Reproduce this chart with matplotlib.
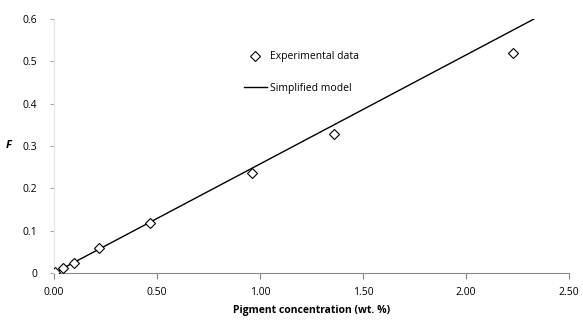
import matplotlib
matplotlib.use("Agg")
import matplotlib.pyplot as plt
from matplotlib.ticker import FixedLocator, FixedFormatter

# Data
conc = [0.005, 0.044, 0.097, 0.22, 0.466, 0.96, 1.36, 2.23]
F_exp = [0.003, 0.012, 0.024, 0.059, 0.118, 0.236, 0.329, 0.52]
model_x = [0.0, 2.33]
model_y = [0.0, 0.60]
xticks = [0.0, 0.5, 1.0, 1.5, 2.0, 2.5]
xticklabels = ["0.00", "0.50", "1.00", "1.50", "2.00", "2.50"]
yticks = [0, 0.1, 0.2, 0.3, 0.4, 0.5, 0.6]
yticklabels = ["0", "0.1", "0.2", "0.3", "0.4", "0.5", "0.6"]

plt.rcParams['font.family'] = ['Open Sans', 'DejaVu Sans']

fig = plt.figure(figsize=(5.83, 3.2), dpi=100)
ax = fig.add_axes([54/583, 1-273/320, (569-54)/583, (273-19)/320])

ax.plot(model_x, model_y, color='black', lw=1.0, label='Simplified model', zorder=2)
ax.plot(conc, F_exp, linestyle='none', marker='D', markersize=5.5, markerfacecolor='white',
        markeredgecolor='black', markeredgewidth=0.8, label='Experimental data', zorder=3)

ax.set_xlim(0, 2.5)
ax.set_ylim(0, 0.6)
ax.xaxis.set_major_locator(FixedLocator(xticks))
ax.xaxis.set_major_formatter(FixedFormatter(xticklabels))
ax.yaxis.set_major_locator(FixedLocator(yticks))
ax.yaxis.set_major_formatter(FixedFormatter(yticklabels))

for s in ['top', 'right']:
    ax.spines[s].set_visible(False)
ax.spines['bottom'].set_color('#888888')
ax.spines['left'].set_color('#e4e4e4')
ax.tick_params(axis='x', direction='out', length=4, color='#888888', labelsize=7.5, pad=6)
ax.tick_params(axis='y', direction='out', length=3, color='#aaaaaa', labelsize=7.5, pad=9)

ax.set_xlabel('Pigment concentration (wt. %)', fontsize=7.5, fontweight='bold', labelpad=5)
ax.set_ylabel('F', fontsize=8, fontweight='bold', style='italic', rotation=0, labelpad=10, va='center')

handles, labels = ax.get_legend_handles_labels()
leg = ax.legend(handles[::-1], labels[::-1], loc='upper left', bbox_to_anchor=(0.35, 0.91),
                frameon=False, fontsize=7.5, handlelength=2.2, labelspacing=2.0, handletextpad=0.3)

fig.savefig('out.png', dpi=100)
